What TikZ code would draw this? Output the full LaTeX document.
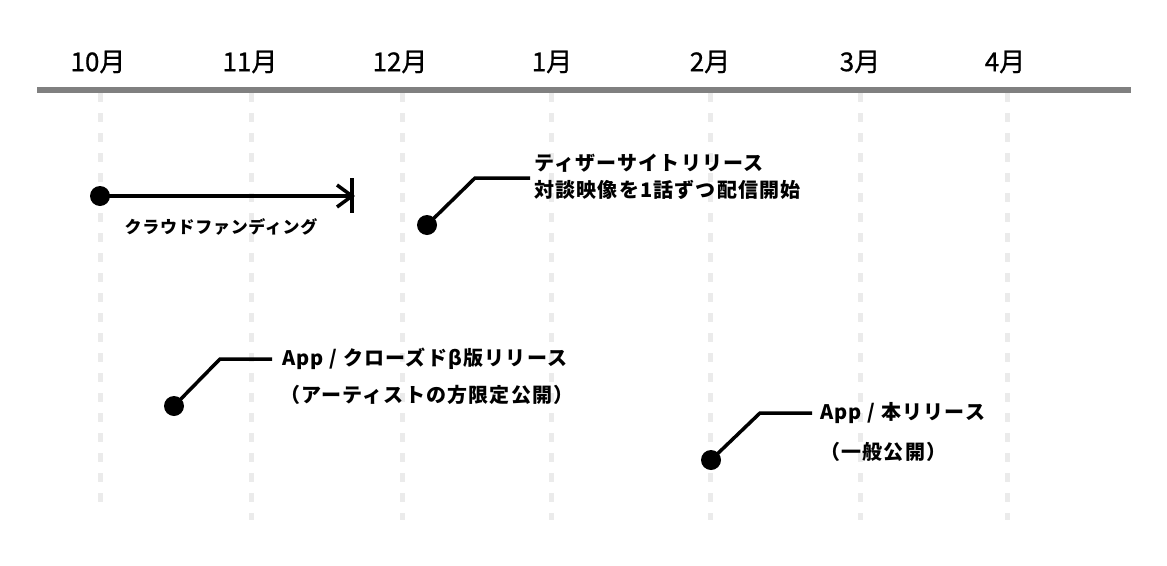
\documentclass[tikz,border=0pt]{standalone}
\usepackage{fontspec}
\setmainfont{Noto Sans CJK JP}
\usetikzlibrary{calc}
\definecolor{gridgray}{HTML}{EBEBEB}
\definecolor{bargray}{HTML}{808080}
\begin{document}
\begin{tikzpicture}[x=1pt,y=-1pt,
  gridline/.style={draw=gridgray, line width=5pt, dash pattern=on 9pt off 11pt},
  topbar/.style={draw=bargray, line width=6pt},
  dot/.style={circle, fill=black, minimum size=20pt, inner sep=0pt},
  conn/.style={draw=black, line width=3.5pt, line join=miter},
  month/.style={font=\fontsize{26}{30}\selectfont\addfontfeatures{FakeBold=0.8}, inner sep=0pt},
  lbl/.style={font=\bfseries\fontsize{20}{24}\selectfont\addfontfeatures{LetterSpace=6}, anchor=west, inner sep=0pt},
  smalllbl/.style={font=\bfseries\fontsize{17}{20}\selectfont\addfontfeatures{LetterSpace=4}, inner sep=0pt}]
\useasboundingbox (0,0) rectangle (1167,565);
\fill[white] (0,0) rectangle (1167,565);

% vertical dashed grid lines
\draw[gridline] (100,93) -- (100,502);
\foreach \gx in {251,402,551,710,860,1007}
  \draw[gridline] (\gx,93) -- (\gx,520);

% top bar
\draw[topbar] (37,90) -- (1131,90);

% month labels
\node[month] (m10) at (98,62) {10月};
\node[month] (m11) at (250,62) {11月};
\node[month] (m12) at (400,62) {12月};
\node[month] (m1) at (552,62) {1月};
\node[month] (m2) at (710,62) {2月};
\node[month] (m3) at (860,62) {3月};
\node[month] (m4) at (1005,62) {4月};

% crowdfunding
\node[dot] (cf) at (100,196) {};
\coordinate (cfend) at (352,196);
\draw[conn] (cf.center) -- (cfend);
\coordinate (cfbartop) at (352,178);
\coordinate (cfbarbot) at (352,213);
\draw[conn] (cfbartop) -- (cfbarbot);
\coordinate (cfchevA) at (337,185);
\coordinate (cfchevB) at (337,207);
\draw[conn] (cfchevA) -- (cfend) -- (cfchevB);
\node[smalllbl] (cflbl) at (221,227) {クラウドファンディング};

% teaser site
\node[dot] (ts) at (427,225) {};
\coordinate (tsknee) at (475,178);
\coordinate (tsend) at (530,178);
\draw[conn] (ts.center) -- (tsknee) -- (tsend);
\node[lbl] (tsl1) at (534,163) {ティザーサイトリリース};
\node[lbl] (tsl2) at (534,190) {対談映像を1話ずつ配信開始};

% closed beta
\node[dot] (cb) at (174,406) {};
\coordinate (cbknee) at (220,359);
\coordinate (cbend) at (272,359);
\draw[conn] (cb.center) -- (cbknee) -- (cbend);
\node[lbl] (cbl1) at (282,359) {App / クローズドβ版リリース};
\node[lbl] (cbl2) at (280,395) {（アーティストの方限定公開）};

% main release
\node[dot] (mr) at (711,460) {};
\coordinate (mrknee) at (760,413);
\coordinate (mrend) at (812,413);
\draw[conn] (mr.center) -- (mrknee) -- (mrend);
\node[lbl] (mrl1) at (820,413) {App / 本リリース};
\node[lbl] (mrl2) at (820,452) {（一般公開）};
\end{tikzpicture}
\end{document}
